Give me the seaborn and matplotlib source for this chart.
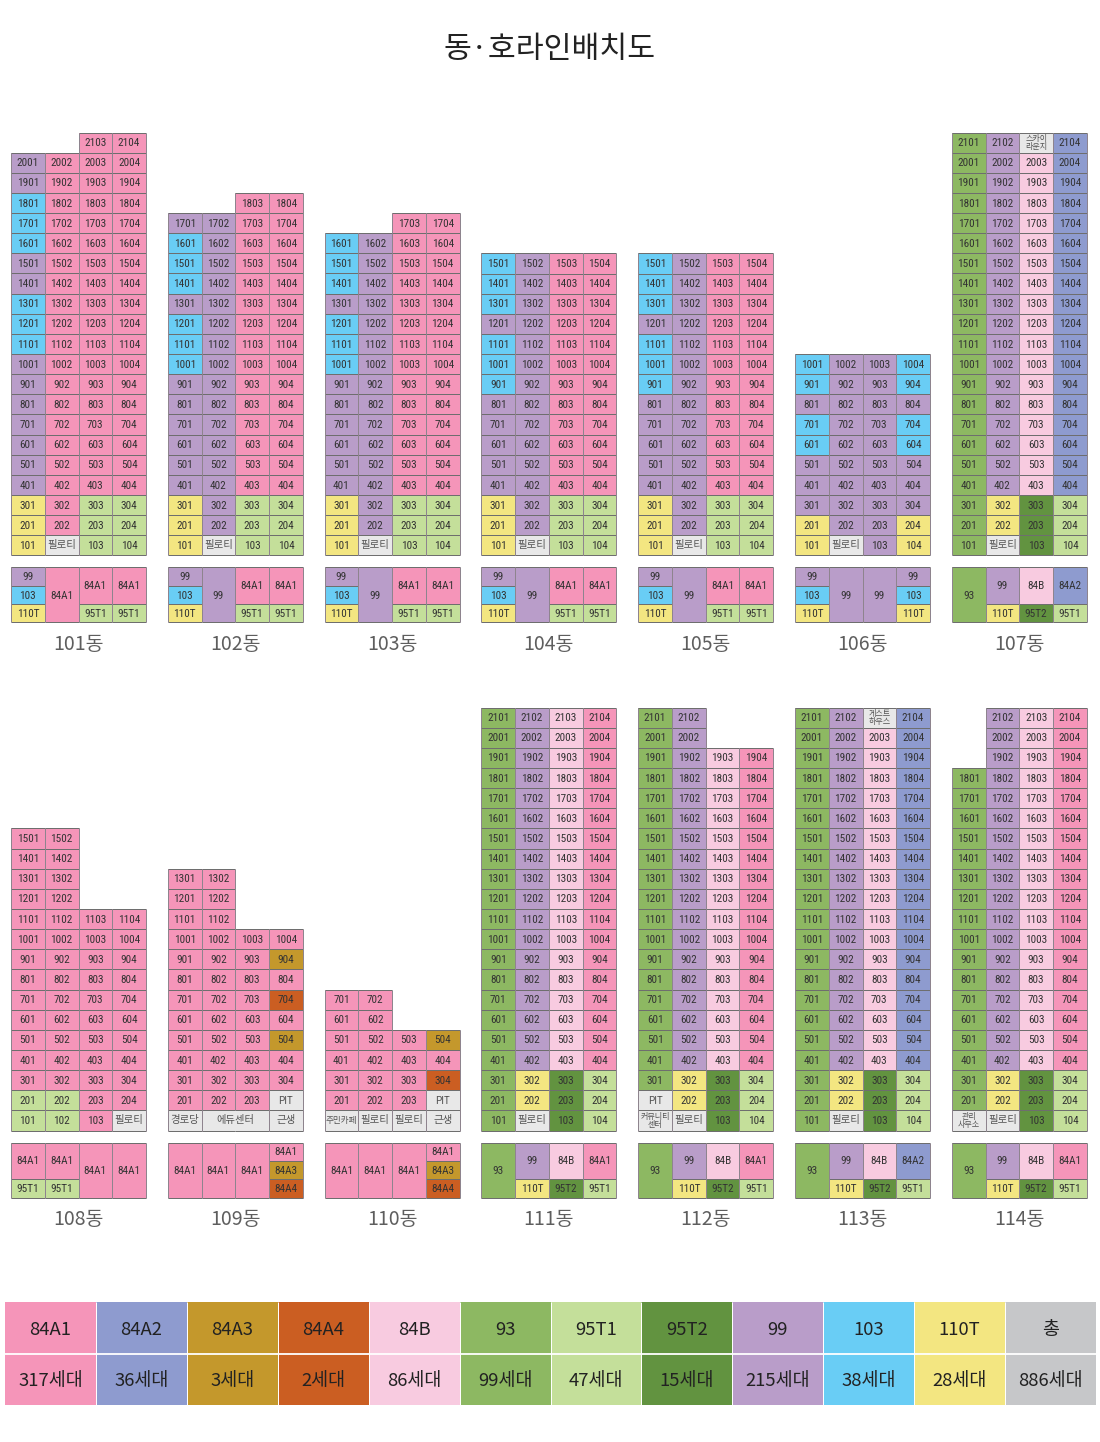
import numpy as np
import seaborn as sns
import matplotlib.pyplot as plt
import pandas as pd
from matplotlib import font_manager
from matplotlib.colors import ListedColormap

W, H = 1100, 1442

# unit type codes used in the floor and plan tables
CODES = 'ABCDEFGHIJKX'
TYPE_NAMES = ['84A1', '84A2', '84A3', '84A4', '84B', '93', '95T1', '95T2', '99', '103', '110T', '']
TYPE_COLORS = ['#F595B9', '#8E9BCF', '#C4982C', '#CB5E22', '#F8CBE0', '#8DB862',
               '#C4DF9A', '#629340', '#B99DC9', '#69CDF5', '#F3E681', '#E8E8E8']

LEGEND_NAMES = ['84A1', '84A2', '84A3', '84A4', '84B', '93', '95T1', '95T2', '99', '103', '110T', '총']
LEGEND_COUNTS = ['317세대', '36세대', '3세대', '2세대', '86세대', '99세대', '47세대', '15세대',
                 '215세대', '38세대', '28세대', '886세대']
LEGEND_COLORS = TYPE_COLORS[:11] + ['#C6C7C9']

# floors from the top down, last string is floor 1
FLOORS_101 = ['..AA', 'IAAA', 'IAAA', 'JAAA', 'JAAA', 'JAAA', 'IAAA', 'IAAA', 'JAAA', 'JAAA', 'JAAA',
              'IAAA', 'IAAA', 'IAAA', 'IAAA', 'IAAA', 'IAAA', 'IAAA', 'KAGG', 'KAGG', 'KXGG']
FLOORS_102 = ['..AA', 'IIAA', 'JIAA', 'JIAA', 'JIAA', 'IIAA', 'JIAA', 'JIAA', 'JIAA',
              'IIAA', 'IIAA', 'IIAA', 'IIAA', 'IIAA', 'IIAA', 'KIGG', 'KIGG', 'KXGG']
FLOORS_103 = ['..AA', 'JIAA', 'JIAA', 'JIAA', 'IIAA', 'JIAA', 'JIAA', 'JIAA',
              'IIAA', 'IIAA', 'IIAA', 'IIAA', 'IIAA', 'IIAA', 'KIGG', 'KIGG', 'KXGG']
FLOORS_104 = ['JIAA', 'JIAA', 'JIAA', 'IIAA', 'JIAA', 'JIAA', 'JIAA',
              'IIAA', 'IIAA', 'IIAA', 'IIAA', 'IIAA', 'KIGG', 'KIGG', 'KXGG']
FLOORS_105 = ['JIAA', 'JIAA', 'JIAA', 'IIAA', 'JIAA', 'JIAA', 'JIAA',
              'IIAA', 'IIAA', 'IIAA', 'IIAA', 'IIAA', 'KIGG', 'KIGG', 'KXGG']
FLOORS_106 = ['JIIJ', 'JIIJ', 'IIII', 'JIIJ', 'JIIJ', 'IIII', 'IIII', 'IIII', 'KIIK', 'KXIK']
FLOORS_107 = ['FIXB'] + ['FIEB'] * 17 + ['FKHG', 'FKHG', 'FXHG']
FLOORS_108 = ['AA..', 'AA..', 'AA..', 'AA..', 'AAAA', 'AAAA', 'AAAA', 'AAAA',
              'AAAA', 'AAAA', 'AAAA', 'AAAA', 'AAAA', 'GGAA', 'GGAX']
FLOORS_109 = ['AA..', 'AA..', 'AA..', 'AAAA', 'AAAC', 'AAAA', 'AAAD', 'AAAA', 'AAAC',
              'AAAA', 'AAAA', 'AAAX', 'XXXX']
FLOORS_110 = ['AA..', 'AA..', 'AAAC', 'AAAA', 'AAAD', 'AAAX', 'XXXX']
FLOORS_111 = ['FIEA'] * 18 + ['FKHG', 'FKHG', 'FXHG']
FLOORS_112 = ['FI..', 'FI..'] + ['FIEA'] * 16 + ['FKHG', 'XKHG', 'XXHG']
FLOORS_113 = ['FIXB'] + ['FIEB'] * 17 + ['FKHG', 'FKHG', 'FXHG']
FLOORS_114 = ['.IEA', '.IEA', '.IEA'] + ['FIEA'] * 15 + ['FKHG', 'FKHG', 'XXHG']

# three-row key plans, one string per row
PLAN_101 = ['IAAA', 'JAAA', 'KAGG']
PLAN_102 = ['IIAA', 'JIAA', 'KIGG']
PLAN_106 = ['IIII', 'JIIJ', 'KIIK']
PLAN_107 = ['FIEB', 'FIEB', 'FKHG']
PLAN_108 = ['AAAA', 'AAAA', 'GGAA']
PLAN_109 = ['AAAA', 'AAAC', 'AAAD']
PLAN_111 = ['FIEA', 'FIEA', 'FKHG']

# non-residential cells: (floor, column) -> text
PILOTI = {(1, 1): '필로티'}
LABELS_107 = {(1, 1): '필로티', (21, 2): '스카이\n라운지'}
LABELS_108 = {(1, 3): '필로티'}
LABELS_109 = {(1, 0): '경로당', (1, 1): '에듀센터', (1, 3): '근생', (2, 3): 'PIT'}
LABELS_110 = {(1, 0): '주민카페', (1, 1): '필로티', (1, 2): '필로티', (1, 3): '근생', (2, 3): 'PIT'}
LABELS_112 = {(1, 0): '커뮤니티\n센터', (1, 1): '필로티', (2, 0): 'PIT'}
LABELS_113 = {(1, 1): '필로티', (21, 2): '게스트\n하우스'}
LABELS_114 = {(1, 0): '관리\n사무소', (1, 1): '필로티'}

BUILDINGS = [
    ('101동', FLOORS_101, PLAN_101, PILOTI),
    ('102동', FLOORS_102, PLAN_102, PILOTI),
    ('103동', FLOORS_103, PLAN_102, PILOTI),
    ('104동', FLOORS_104, PLAN_102, PILOTI),
    ('105동', FLOORS_105, PLAN_102, PILOTI),
    ('106동', FLOORS_106, PLAN_106, PILOTI),
    ('107동', FLOORS_107, PLAN_107, LABELS_107),
    ('108동', FLOORS_108, PLAN_108, LABELS_108),
    ('109동', FLOORS_109, PLAN_109, LABELS_109),
    ('110동', FLOORS_110, PLAN_109, LABELS_110),
    ('111동', FLOORS_111, PLAN_111, PILOTI),
    ('112동', FLOORS_112, PLAN_111, LABELS_112),
    ('113동', FLOORS_113, PLAN_107, LABELS_113),
    ('114동', FLOORS_114, PLAN_111, LABELS_114),
]

sns.set_theme(style='white')
plt.rcParams['font.family'] = ['Noto Sans CJK KR', 'DejaVu Sans']

# narrow digits if the machine has them, plain Roboto otherwise
installed = {f.name for f in font_manager.fontManager.ttflist}
if 'Roboto Condensed' in installed:
    CELL_FONT = ['Roboto Condensed', 'Noto Sans CJK KR']
    CELL_SIZE = 8.1
else:
    CELL_FONT = ['Roboto', 'Noto Sans CJK KR']
    CELL_SIZE = 7.2

TEXT_COLOR = '#333333'
FACILITY_COLOR = '#555555'
HLINE_COLOR = '#6E6E6E'
VLINE_COLOR = '#8E848E'

type_cmap = ListedColormap(TYPE_COLORS)


def px_axes(fig, left, top, width, height):
    return fig.add_axes([left / W, 1 - (top + height) / H, width / W, height / H])


def code_table(rows):
    values = [[CODES.find(c) if c != '.' else np.nan for c in row] for row in rows]
    return pd.DataFrame(values, dtype=float)


def draw_cells(ax, rows):
    sns.heatmap(code_table(rows), ax=ax, cmap=type_cmap, vmin=-0.5, vmax=len(CODES) - 0.5,
                cbar=False, xticklabels=False, yticklabels=False, linewidths=0)
    ax.set_xlabel('')
    ax.set_ylabel('')


def edge_lines(ax, hlines, vlines):
    for y, x0, x1 in hlines:
        ax.hlines(y, x0, x1, color=HLINE_COLOR, linewidth=0.72, clip_on=False)
    for x, y0, y1 in vlines:
        ax.vlines(x, y0, y1, color=VLINE_COLOR, linewidth=0.72, clip_on=False)


def draw_floors(ax, rows, labels):
    draw_cells(ax, rows)
    total = len(rows)
    hlines, vlines = [], []
    for r, row in enumerate(rows):
        floor = total - r
        for c, code in enumerate(row):
            if code == '.':
                continue
            hlines += [(r, c, c + 1), (r + 1, c, c + 1)]
            # 에듀센터 takes two columns
            if labels.get((floor, c - 1)) != '에듀센터':
                vlines.append((c, r, r + 1))
            if labels.get((floor, c)) != '에듀센터':
                vlines.append((c + 1, r, r + 1))

            text = labels.get((floor, c))
            if text is None and code == 'X':
                continue
            if text is None:
                ax.text(c + 0.5, r + 0.53, f'{floor}{c + 1:02d}', ha='center', va='center',
                        fontsize=CELL_SIZE, color=TEXT_COLOR, family=CELL_FONT)
            elif '\n' in text:
                ax.text(c + 0.5, r + 0.5, text, ha='center', va='center', fontsize=5.8,
                        linespacing=0.95, color=FACILITY_COLOR)
            elif text == '에듀센터':
                ax.text(c + 1, r + 0.5, text, ha='center', va='center', fontsize=7.4,
                        color=FACILITY_COLOR)
            elif text == '주민카페':
                ax.text(c + 0.5, r + 0.5, text, ha='center', va='center', fontsize=6.2,
                        color=FACILITY_COLOR)
            elif text == 'PIT':
                ax.text(c + 0.5, r + 0.53, text, ha='center', va='center', fontsize=CELL_SIZE,
                        color=FACILITY_COLOR, family=CELL_FONT)
            else:
                ax.text(c + 0.5, r + 0.5, text, ha='center', va='center', fontsize=7.5,
                        color=FACILITY_COLOR)
    edge_lines(ax, hlines, vlines)


def draw_plan(ax, rows):
    draw_cells(ax, rows)
    hlines, vlines = [], []
    n_cols = len(rows[0])
    for c in range(n_cols + 1):
        vlines.append((c, 0, len(rows)))
    for c in range(n_cols):
        start = 0
        for r in range(1, len(rows) + 1):
            if r == len(rows) or rows[r][c] != rows[start][c]:
                hlines += [(start, c, c + 1), (r, c, c + 1)]
                name = TYPE_NAMES[CODES.find(rows[start][c])]
                ax.text(c + 0.5, (start + r) / 2 + 0.03, name, ha='center', va='center',
                        fontsize=CELL_SIZE, color=TEXT_COLOR, family=CELL_FONT)
                start = r
    edge_lines(ax, hlines, vlines)


def draw_legend(fig):
    ax = px_axes(fig, 5, 1302, 1091, 103)
    table = pd.DataFrame([list(range(12)), list(range(12))], dtype=float)
    notes = np.array([LEGEND_NAMES, LEGEND_COUNTS])
    sns.heatmap(table, ax=ax, cmap=ListedColormap(LEGEND_COLORS), vmin=-0.5, vmax=11.5, cbar=False,
                xticklabels=False, yticklabels=False, annot=notes, fmt='', linewidths=0,
                annot_kws={'fontsize': 13.3, 'color': '#222222'})
    ax.set_xlabel('')
    ax.set_ylabel('')
    ax.hlines(1, 0, 12, color='white', linewidth=1.3)
    ax.vlines(range(1, 12), 0, 2, color='white', linewidth=0.72)
    for text in ax.texts:
        x, y = text.get_position()
        text.set_position((x, y + 0.04))


fig = plt.figure(figsize=(W / 100, H / 100), dpi=100, facecolor='white')

fig.text(550 / W, 1 - 49 / H, '동·호라인배치도', ha='center', va='center', fontsize=21.8,
         fontweight='medium', color='#222222')

row_pitch = 423 / 21
for i, (name, rows, plan, labels) in enumerate(BUILDINGS):
    column = i % 7
    left = 11 + 156.8 * column
    bottom = 555.5 if i < 7 else 1130.5
    height = row_pitch * len(rows)

    draw_floors(px_axes(fig, left, bottom - height, 135, height), rows, labels)
    draw_plan(px_axes(fig, left, bottom + 12, 135, 55), plan)
    fig.text((left + 67.5) / W, 1 - (bottom + 89) / H, name, ha='center', va='center',
             fontsize=14, color='#5E5E5E')

draw_legend(fig)

fig.savefig('out.png', dpi=100)
plt.close('all')
